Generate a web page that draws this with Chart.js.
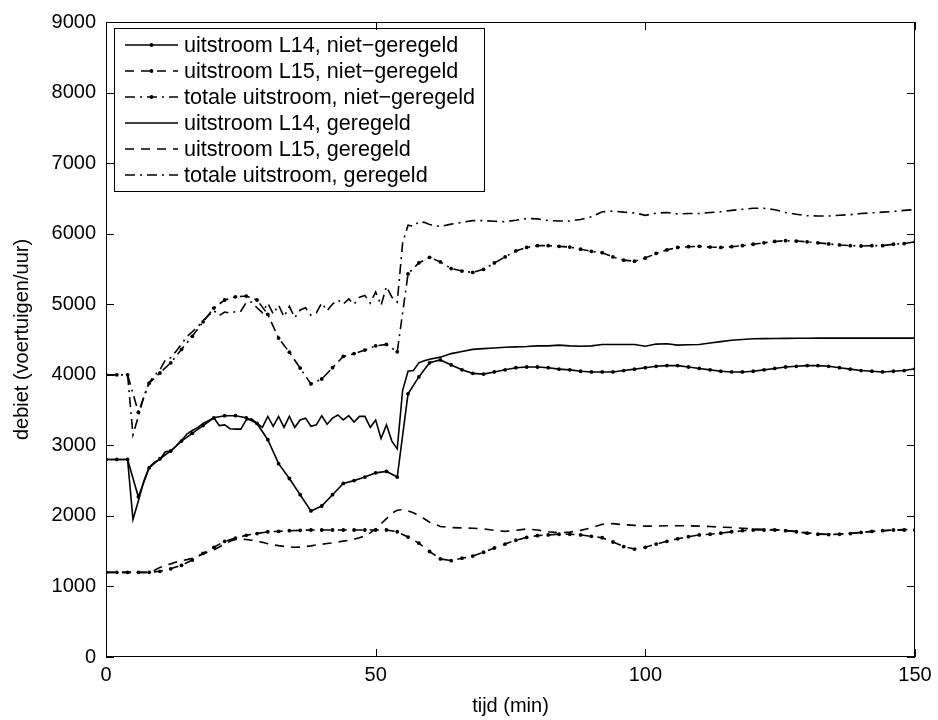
<!DOCTYPE html>
<html>
<head>
<meta charset="utf-8">
<script src="https://cdn.jsdelivr.net/npm/chart.js@4.4.0/dist/chart.umd.min.js"></script>
<style>
  html, body { margin: 0; padding: 0; background: #fff; }
  #wrap { width: 938px; height: 720px; }
</style>
</head>
<body>
<div id="wrap"><canvas id="chart" width="938" height="720"></canvas></div>
<script>
// time grids (min)
const tUncontrolled = [0,2,4,6,8,10,12,14,16,18,20,22,24,26,28,30,32,34,36,38,40,42,44,46,48,50,52,54,56,58,
  60,62,64,66,68,70,72,74,76,78,80,82,84,86,88,90,92,94,96,98,100,102,104,106,108,110,112,114,116,118,
  120,122,124,126,128,130,132,134,136,138,140,142,144,146,148,150];
const tRegulated = [0,1,2,3,4,5,6,7,8,9,10,11,12,13,14,15,16,17,18,19,20,21,22,23,24,25,26,27,28,29,
  30,31,32,33,34,35,36,37,38,39,40,41,42,43,44,45,46,47,48,49,50,51,52,53,54,55,56,57,58,59,60,
  62,64,66,68,70,72,74,76,78,80,82,84,86,88,90,92,94,96,98,100,102,104,106,108,110,112,114,116,118,120,
  122,124,126,128,130,132,134,136,138,140,142,144,146,148,150];

// niet-geregeld (on tUncontrolled)
const l14Uncontrolled = [2800,2800,2800,2270,2680,2810,2920,3060,3170,3280,
  3390,3420,3420,3390,3310,3080,2740,2530,2300,2070,
  2140,2300,2460,2500,2550,2610,2630,2550,3730,3970,
  4170,4210,4140,4070,4020,4010,4040,4070,4100,4110,
  4110,4100,4080,4070,4050,4040,4040,4040,4060,4080,
  4100,4120,4130,4130,4110,4090,4070,4050,4040,4040,
  4050,4070,4090,4110,4120,4130,4130,4120,4100,4080,
  4060,4050,4040,4050,4060,4085];
const l15Uncontrolled = [1200,1200,1200,1200,1200,1215,1250,1300,1375,1470,
  1555,1640,1685,1725,1750,1775,1780,1790,1795,1800,
  1800,1800,1800,1800,1800,1800,1800,1775,1700,1615,
  1495,1390,1365,1400,1430,1485,1545,1600,1655,1695,
  1720,1730,1740,1740,1730,1710,1690,1630,1565,1530,
  1555,1600,1640,1675,1705,1730,1740,1755,1775,1790,
  1800,1800,1800,1790,1775,1755,1740,1735,1740,1750,
  1765,1780,1790,1800,1800,1800];
const totalUncontrolled = [4000,4000,4000,3470,3880,4025,4170,4360,4545,4750,
  4945,5060,5105,5115,5060,4855,4520,4320,4095,3870,
  3940,4100,4260,4300,4350,4410,4430,4325,5430,5585,
  5665,5600,5505,5470,5450,5495,5585,5670,5755,5805,
  5830,5830,5820,5810,5780,5750,5730,5670,5625,5610,
  5655,5720,5770,5805,5815,5820,5810,5805,5815,5830,
  5850,5870,5890,5900,5895,5885,5870,5855,5840,5830,
  5825,5830,5830,5850,5860,5885];

// geregeld (on tRegulated)
const l14Regulated = [2800,2800,2800,2800,2800,1950,2210,2490,2690,2760,
  2800,2910,2920,2990,3070,3160,3210,3250,3310,3350,
  3390,3280,3290,3235,3230,3230,3360,3375,3310,3255,
  3410,3270,3410,3255,3410,3255,3360,3385,3270,3290,
  3420,3300,3385,3430,3360,3420,3330,3410,3410,3255,
  3360,3095,3290,3060,2950,3780,4050,4060,4170,4200,
  4220,
  4250,4300,4330,4360,4370,4380,4390,4395,4400,4410,
  4410,4420,4410,4405,4410,4430,4430,4430,4430,4405,
  4435,4440,4420,4425,4430,4450,4470,4490,4500,4510,
  4512,4515,4516,4517,4518,4520,4520,4520,4520,4520,
  4520,4520,4520,4520,4520];
const l15Regulated = [1200,1200,1200,1200,1200,1200,1200,1200,1200,1230,
  1270,1300,1320,1345,1365,1380,1400,1430,1460,1490,
  1520,1560,1600,1640,1665,1670,1665,1655,1640,1625,
  1605,1590,1578,1568,1560,1556,1558,1565,1575,1588,
  1598,1608,1618,1630,1642,1655,1670,1690,1715,1760,
  1815,1890,1960,2040,2080,2090,2070,2045,2000,1960,
  1910,
  1850,1835,1830,1825,1815,1795,1780,1795,1815,1800,
  1775,1760,1770,1795,1830,1880,1890,1875,1865,1855,
  1855,1860,1860,1860,1855,1850,1840,1835,1825,1815,
  1810,1805,1795,1780,1760,1745,1738,1742,1752,1765,
  1780,1790,1800,1805,1810];
const totalRegulated = [4000,4000,4000,4000,4000,3150,3410,3690,3890,3990,
  4070,4210,4240,4335,4435,4540,4610,4680,4770,4840,
  4910,4840,4890,4875,4895,4900,5025,5030,4950,4880,
  5015,4860,4988,4823,4970,4811,4918,4950,4845,4878,
  5018,4908,5003,5060,5002,5075,5000,5100,5125,5015,
  5175,4985,5250,5100,5030,5870,6120,6105,6170,6160,
  6130,
  6100,6135,6160,6185,6185,6175,6170,6190,6215,6210,
  6185,6180,6180,6200,6240,6310,6320,6305,6295,6260,
  6290,6300,6280,6285,6285,6300,6310,6330,6345,6360,
  6360,6340,6300,6275,6255,6250,6250,6260,6270,6285,
  6295,6305,6315,6330,6340];

const seriesLabels = [
  'uitstroom L14, niet\u2212geregeld',
  'uitstroom L15, niet\u2212geregeld',
  'totale uitstroom, niet\u2212geregeld',
  'uitstroom L14, geregeld',
  'uitstroom L15, geregeld',
  'totale uitstroom, geregeld'
];
const xTicks = [0, 50, 100, 150];
const yTicks = [0, 1000, 2000, 3000, 4000, 5000, 6000, 7000, 8000, 9000];

const FONT = 'Helvetica, "Liberation Sans", Arial, sans-serif';
const DASH = [9, 7];
const DASHDOT = [10, 5, 2, 5];

const toPoints = (ts, vs) => ts.map((t, i) => ({ x: t, y: vs[i] }));

function makeSet(label, ts, vs, dash, marker) {
  return {
    label: label,
    data: toPoints(ts, vs),
    borderColor: '#000',
    backgroundColor: '#000',
    borderWidth: 1.6,
    borderDash: dash,
    borderJoinStyle: 'miter',
    pointRadius: marker ? 1.9 : 0,
    pointHoverRadius: 0,
    pointBorderWidth: 0,
    tension: 0,
    fill: false
  };
}

// inward tick marks and box, MATLAB style
const framePlugin = {
  id: 'frame',
  afterDraw(chart) {
    const { ctx, chartArea: a, scales: { x, y } } = chart;
    ctx.save();
    ctx.strokeStyle = '#000';
    ctx.lineWidth = 1;
    ctx.setLineDash([]);
    ctx.strokeRect(a.left + 0.5, a.top + 0.5, a.right - a.left - 1, a.bottom - a.top - 1);
    ctx.beginPath();
    x.ticks.forEach(t => {
      const px = Math.round(x.getPixelForValue(t.value)) + 0.5;
      ctx.moveTo(px, a.bottom); ctx.lineTo(px, a.bottom - 8);
      ctx.moveTo(px, a.top); ctx.lineTo(px, a.top + 8);
    });
    y.ticks.forEach(t => {
      const py = Math.round(y.getPixelForValue(t.value)) + 0.5;
      ctx.moveTo(a.left, py); ctx.lineTo(a.left + 8, py);
      ctx.moveTo(a.right, py); ctx.lineTo(a.right - 8, py);
    });
    ctx.stroke();
    ctx.restore();
  }
};

// legend box inside the axes, upper left
const legendPlugin = {
  id: 'boxLegend',
  afterDatasetsDraw(chart) {
    const { ctx } = chart;
    const box = { left: 114, top: 28, right: 484, bottom: 191 };
    const rowH = 26;
    ctx.save();
    ctx.fillStyle = '#fff';
    ctx.fillRect(box.left, box.top, box.right - box.left, box.bottom - box.top);
    ctx.strokeStyle = '#000';
    ctx.lineWidth = 1;
    ctx.setLineDash([]);
    ctx.strokeRect(box.left + 0.5, box.top + 0.5, box.right - box.left, box.bottom - box.top);
    ctx.font = '21.6px ' + FONT;
    ctx.textBaseline = 'middle';
    ctx.textAlign = 'left';
    chart.data.datasets.forEach((ds, i) => {
      const cy = box.top + 17 + i * rowH;
      ctx.strokeStyle = '#000';
      ctx.lineWidth = ds.borderWidth;
      ctx.setLineDash(ds.borderDash);
      ctx.beginPath();
      ctx.moveTo(125, cy);
      ctx.lineTo(178, cy);
      ctx.stroke();
      if (ds.pointRadius > 0) {
        ctx.setLineDash([]);
        ctx.fillStyle = '#000';
        ctx.beginPath();
        ctx.arc(151.5, cy, ds.pointRadius, 0, Math.PI * 2);
        ctx.fill();
      }
      ctx.fillStyle = '#000';
      ctx.fillText(ds.label, 184, cy + 1);
    });
    ctx.restore();
  }
};

new Chart(document.getElementById('chart').getContext('2d'), {
  type: 'line',
  data: {
    datasets: [
      makeSet(seriesLabels[0], tUncontrolled, l14Uncontrolled, [], true),
      makeSet(seriesLabels[1], tUncontrolled, l15Uncontrolled, DASH, true),
      makeSet(seriesLabels[2], tUncontrolled, totalUncontrolled, DASHDOT, true),
      makeSet(seriesLabels[3], tRegulated, l14Regulated, [], false),
      makeSet(seriesLabels[4], tRegulated, l15Regulated, DASH, false),
      makeSet(seriesLabels[5], tRegulated, totalRegulated, DASHDOT, false)
    ]
  },
  options: {
    responsive: false,
    animation: false,
    devicePixelRatio: 1,
    layout: { padding: { left: 0, right: 23, top: 18, bottom: 0 } },
    plugins: {
      legend: { display: false },
      tooltip: { enabled: false }
    },
    scales: {
      x: {
        type: 'linear',
        min: 0,
        max: 150,
        afterBuildTicks: scale => { scale.ticks = xTicks.map(v => ({ value: v })); },
        afterFit: scale => { scale.height = 63; },
        grid: { display: false, drawTicks: false },
        border: { display: false },
        ticks: { color: '#000', font: { family: FONT, size: 20 }, padding: 6, maxRotation: 0, callback: v => String(v) },
        title: { display: true, text: 'tijd (min)', color: '#000', font: { family: FONT, size: 20 }, padding: { top: 0, bottom: 2 } }
      },
      y: {
        type: 'linear',
        min: 0,
        max: 9000,
        afterBuildTicks: scale => { scale.ticks = yTicks.map(v => ({ value: v })); },
        afterFit: scale => { scale.width = 106; },
        grid: { display: false, drawTicks: false },
        border: { display: false },
        ticks: { color: '#000', font: { family: FONT, size: 20 }, padding: 10, callback: v => String(v) },
        title: { display: true, text: 'debiet (voertuigen/uur)', color: '#000', font: { family: FONT, size: 20 }, padding: { top: 10, bottom: 0 } }
      }
    }
  },
  plugins: [legendPlugin, framePlugin]
});
</script>
</body>
</html>
